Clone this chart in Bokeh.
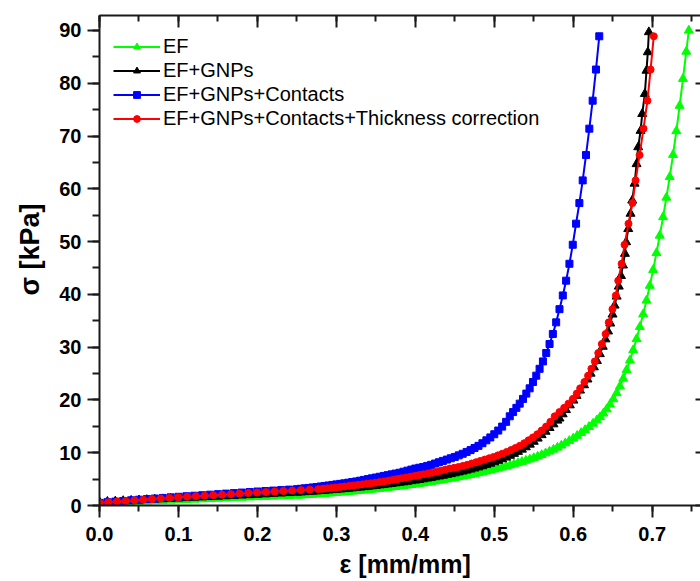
from bokeh.plotting import figure
from bokeh.models import (Range1d, SingleIntervalTicker, LinearAxis, NumeralTickFormatter,
                          Legend, LegendItem, Title)
from bokeh.embed import file_html
from bokeh.resources import INLINE

# ---------------- data ----------------
series_names = ["EF", "EF+GNPs", "EF+GNPs+Contacts", "EF+GNPs+Contacts+Thickness correction"]
series_colors = ["#00ff00", "#000000", "#0000ff", "#ff0000"]

ef_strain = [0.00, 0.01, 0.02, 0.03, 0.04, 0.05, 0.06, 0.07, 0.08, 0.09, 0.10, 0.11, 0.12, 0.13,
             0.14, 0.15, 0.16, 0.17, 0.18, 0.19, 0.20, 0.21, 0.22, 0.23, 0.24, 0.25,
             0.255, 0.26, 0.265, 0.27, 0.275, 0.28, 0.285, 0.29, 0.295, 0.30,
             0.305, 0.31, 0.315, 0.32, 0.325, 0.33, 0.335, 0.34, 0.345, 0.35,
             0.355, 0.36, 0.365, 0.37, 0.375, 0.38, 0.385, 0.39, 0.395, 0.40,
             0.405, 0.41, 0.415, 0.42, 0.425, 0.43, 0.435, 0.44, 0.445, 0.45,
             0.455, 0.46, 0.465, 0.47, 0.475, 0.48, 0.485, 0.49, 0.495, 0.50,
             0.505, 0.51, 0.515, 0.52, 0.525, 0.53, 0.535, 0.54, 0.545, 0.55,
             0.555, 0.56, 0.565, 0.57, 0.575, 0.58, 0.585, 0.59, 0.595, 0.60,
             0.605, 0.61, 0.615, 0.62, 0.625, 0.63,
             0.634, 0.6382, 0.6424, 0.6466, 0.6508, 0.655, 0.6592, 0.6634, 0.6676, 0.6718,
             0.676, 0.6802, 0.6844, 0.6886, 0.6928, 0.697, 0.7012, 0.7054, 0.7096, 0.7138,
             0.718, 0.7222, 0.7264, 0.7306, 0.7348, 0.739, 0.7432, 0.7464]
ef_stress = [0.40, 0.46, 0.52, 0.58, 0.64, 0.70, 0.76, 0.82, 0.88, 0.94, 1.00, 1.06, 1.12, 1.18,
             1.24, 1.30, 1.36, 1.42, 1.48, 1.54, 1.60, 1.65, 1.70, 1.75, 1.81, 1.87,
             1.92, 1.97, 2.02, 2.07, 2.12, 2.17, 2.22, 2.28, 2.34, 2.40,
             2.46, 2.52, 2.59, 2.66, 2.73, 2.80, 2.87, 2.94, 3.02, 3.10,
             3.18, 3.26, 3.35, 3.44, 3.53, 3.62, 3.71, 3.80, 3.90, 4.00,
             4.11, 4.22, 4.34, 4.46, 4.58, 4.70, 4.83, 4.96, 5.10, 5.24,
             5.38, 5.52, 5.67, 5.82, 5.98, 6.14, 6.31, 6.48, 6.66, 6.84,
             7.03, 7.22, 7.42, 7.62, 7.83, 8.05, 8.28, 8.51, 8.74, 9.00,
             9.28, 9.58, 9.90, 10.24, 10.60, 10.98, 11.38, 11.80, 12.25, 12.72,
             13.22, 13.75, 14.31, 14.90, 15.52, 16.17,
             16.75, 17.45, 18.25, 19.15, 20.15, 21.3, 22.6, 24.05, 25.7, 27.5,
             29.45, 31.55, 33.85, 36.25, 38.85, 41.65, 44.65, 47.85, 51.15, 54.65,
             58.35, 62.25, 66.45, 70.95, 75.75, 80.85, 86.0, 90.0]

gnp_strain = [0.00, 0.01, 0.02, 0.03, 0.04, 0.05, 0.06, 0.07, 0.08, 0.09, 0.10, 0.11, 0.12, 0.13,
              0.14, 0.15, 0.16, 0.17, 0.18, 0.19, 0.20, 0.21, 0.22, 0.23, 0.24, 0.25,
              0.255, 0.26, 0.265, 0.27, 0.275, 0.28, 0.285, 0.29, 0.295, 0.30,
              0.305, 0.31, 0.315, 0.32, 0.325, 0.33, 0.335, 0.34, 0.345, 0.35,
              0.355, 0.36, 0.365, 0.37, 0.375, 0.38, 0.385, 0.39, 0.395, 0.40,
              0.405, 0.41, 0.415, 0.42, 0.425, 0.43, 0.435, 0.44, 0.445, 0.45,
              0.455, 0.46, 0.465, 0.47, 0.475, 0.48, 0.485, 0.49, 0.495, 0.50,
              0.505, 0.51, 0.515, 0.52, 0.525, 0.53, 0.535, 0.54, 0.545, 0.55,
              0.555, 0.56, 0.565, 0.57, 0.575, 0.58,
              0.5826, 0.5866, 0.5908, 0.5957, 0.6002, 0.6042, 0.6086, 0.6137, 0.618, 0.622,
              0.6262, 0.630, 0.6337, 0.6374, 0.6408, 0.6441, 0.6469, 0.6498, 0.6524, 0.655,
              0.6577, 0.6605, 0.663, 0.6655, 0.667, 0.6697, 0.6726, 0.6747, 0.6777, 0.6802,
              0.6823, 0.6853, 0.6874, 0.6907, 0.6928, 0.6945, 0.6958]
gnp_stress = [0.65, 0.72, 0.79, 0.86, 0.93, 1.00, 1.07, 1.14, 1.21, 1.28, 1.35, 1.42, 1.49, 1.56,
              1.63, 1.70, 1.77, 1.84, 1.91, 1.98, 2.05, 2.13, 2.21, 2.29, 2.37, 2.45,
              2.50, 2.55, 2.60, 2.65, 2.70, 2.76, 2.82, 2.88, 2.94, 3.00,
              3.06, 3.13, 3.20, 3.27, 3.34, 3.42, 3.50, 3.58, 3.66, 3.75,
              3.84, 3.93, 4.02, 4.12, 4.22, 4.32, 4.42, 4.53, 4.64, 4.75,
              4.87, 4.99, 5.12, 5.25, 5.38, 5.52, 5.66, 5.81, 5.96, 6.12,
              6.29, 6.46, 6.64, 6.83, 7.03, 7.24, 7.46, 7.69, 7.94, 8.20,
              8.48, 8.78, 9.10, 9.44, 9.80, 10.18, 10.60, 11.05, 11.55, 12.10,
              12.70, 13.35, 14.00, 14.70, 15.40, 16.10,
              16.5, 17.3, 18.1, 19.0, 19.9, 20.8, 21.8, 22.8, 23.9, 25.0,
              26.2, 27.4, 28.7, 30.1, 31.5, 33.0, 34.5, 36.2, 37.9, 39.6,
              41.5, 43.5, 45.5, 47.7, 49.9, 52.4, 55.3, 57.8, 61.0, 64.7,
              67.9, 71.0, 74.2, 78.0, 82.4, 85.9, 89.7]

con_strain = [0.00, 0.01, 0.02, 0.03, 0.04, 0.05, 0.06, 0.07, 0.08, 0.09, 0.10, 0.11, 0.12, 0.13,
              0.14, 0.15, 0.16, 0.17, 0.18, 0.19, 0.20, 0.21, 0.22, 0.23, 0.24, 0.25,
              0.255, 0.26, 0.265, 0.27, 0.275, 0.28, 0.285, 0.29, 0.295, 0.30,
              0.305, 0.31, 0.315, 0.32, 0.325, 0.33, 0.335, 0.34, 0.345, 0.35,
              0.355, 0.36, 0.365, 0.37, 0.375, 0.38, 0.385, 0.39, 0.395, 0.40,
              0.405, 0.41, 0.415, 0.42, 0.425, 0.43, 0.435, 0.44, 0.445, 0.45,
              0.455, 0.46, 0.465, 0.47, 0.475, 0.48, 0.485, 0.49, 0.495, 0.50,
              0.505, 0.51, 0.515,
              0.5196, 0.5238, 0.528, 0.5322, 0.5364, 0.5406, 0.5448, 0.549, 0.5532, 0.5574,
              0.5616, 0.5658, 0.57, 0.5742, 0.5784, 0.5826, 0.5868, 0.591, 0.5952, 0.5994,
              0.6036, 0.6078, 0.612, 0.6162, 0.6204, 0.6246, 0.6288, 0.633]
con_stress = [0.50, 0.62, 0.74, 0.86, 0.98, 1.10, 1.21, 1.32, 1.43, 1.54, 1.65, 1.75, 1.85, 1.95,
              2.05, 2.15, 2.25, 2.35, 2.45, 2.55, 2.65, 2.74, 2.83, 2.92, 3.01, 3.10,
              3.17, 3.25, 3.33, 3.42, 3.50, 3.60, 3.70, 3.80, 3.90, 4.00,
              4.10, 4.20, 4.32, 4.44, 4.56, 4.70, 4.85, 5.00, 5.15, 5.30,
              5.45, 5.60, 5.75, 5.90, 6.05, 6.20, 6.40, 6.60, 6.80, 7.00,
              7.15, 7.30, 7.50, 7.70, 7.95, 8.20, 8.45, 8.70, 8.95, 9.20,
              9.50, 9.80, 10.15, 10.50, 10.90, 11.30, 11.80, 12.35, 12.90, 13.50,
              14.20, 14.95, 15.85,
              16.9, 17.7, 18.5, 19.3, 20.2, 21.2, 22.2, 23.4, 24.6, 25.9,
              27.3, 28.9, 30.6, 32.5, 34.7, 37.2, 39.8, 42.6, 45.8, 49.4,
              53.4, 57.3, 61.6, 66.4, 71.4, 76.7, 82.6, 88.9]

thk_strain = [0.0, 0.0111, 0.0222, 0.0333, 0.0444, 0.0555, 0.0665, 0.0776, 0.0887, 0.0998,
              0.1109, 0.122, 0.1331, 0.1442, 0.1553, 0.1664, 0.1774, 0.1885, 0.1996, 0.2107,
              0.2218, 0.2329, 0.244, 0.2551, 0.2662, 0.2773,
              0.2828, 0.2883, 0.2939, 0.2994, 0.305, 0.3105, 0.3161, 0.3216, 0.3272, 0.3327,
              0.3382, 0.3438, 0.3493, 0.3549, 0.3604, 0.366, 0.3715, 0.3771, 0.3826, 0.3882,
              0.3937, 0.3992, 0.4048, 0.4103, 0.4159, 0.4214, 0.427, 0.4325, 0.4381, 0.4436,
              0.4491, 0.4547, 0.4602, 0.4658, 0.4713, 0.4769, 0.4824, 0.488, 0.4935, 0.4991,
              0.5046, 0.5101, 0.5157, 0.5212, 0.5268, 0.5323, 0.5379, 0.5434, 0.549, 0.5545,
              0.56, 0.5656, 0.5711,
              0.5765, 0.5825, 0.5885, 0.594, 0.5995, 0.6045, 0.6088, 0.6142, 0.6188, 0.623,
              0.6274, 0.6317, 0.6362, 0.641, 0.645, 0.6497, 0.654, 0.657, 0.6613, 0.665,
              0.670, 0.675, 0.679, 0.684, 0.689, 0.694, 0.698, 0.702]
thk_stress = [0.50, 0.62, 0.74, 0.86, 0.98, 1.10, 1.21, 1.32, 1.43, 1.54, 1.65, 1.75, 1.85, 1.95,
              2.05, 2.15, 2.25, 2.35, 2.45, 2.55, 2.65, 2.74, 2.83, 2.92, 3.01, 3.10,
              3.17, 3.25, 3.33, 3.42, 3.50, 3.60, 3.70, 3.80, 3.90, 4.00,
              4.10, 4.20, 4.32, 4.44, 4.56, 4.70, 4.85, 5.00, 5.15, 5.30,
              5.45, 5.60, 5.75, 5.90, 6.05, 6.20, 6.40, 6.60, 6.80, 7.00,
              7.15, 7.30, 7.50, 7.70, 7.95, 8.20, 8.45, 8.70, 8.95, 9.20,
              9.50, 9.80, 10.15, 10.50, 10.90, 11.30, 11.80, 12.35, 12.90, 13.50,
              14.20, 14.95, 15.85,
              16.9, 17.7, 18.5, 19.3, 20.2, 21.2, 22.2, 23.4, 24.6, 25.9,
              27.3, 28.9, 30.6, 32.5, 34.7, 37.2, 39.8, 42.6, 45.8, 49.4,
              53.4, 57.3, 61.6, 66.4, 71.4, 76.7, 82.6, 88.9]

x_label = "ε [mm/mm]"
y_label = "σ [kPa]"

# ---------------- figure ----------------
FONT = "Liberation Sans"
AX = "#1a1a1a"

p = figure(width=700, height=581, output_backend="svg", toolbar_location=None,
           x_range=Range1d(0, 0.7612), y_range=Range1d(0, 92.84),
           min_border_left=99, min_border_right=0, min_border_top=15, min_border_bottom=76)
p.grid.visible = False
p.outline_line_color = None
p.background_fill_color = "white"
p.border_fill_color = "white"

xt = SingleIntervalTicker(interval=0.1, num_minor_ticks=2)
yt = SingleIntervalTicker(interval=10, num_minor_ticks=2)


def style(ax, tick_in, tick_out, minor_in, minor_out):
    ax.axis_line_width = 2
    ax.axis_line_color = AX
    ax.major_tick_line_width = 2
    ax.major_tick_line_color = AX
    ax.minor_tick_line_width = 2
    ax.minor_tick_line_color = AX
    ax.major_tick_in = tick_in
    ax.major_tick_out = tick_out
    ax.minor_tick_in = minor_in
    ax.minor_tick_out = minor_out
    ax.major_label_text_font = FONT
    ax.major_label_text_font_style = "bold"
    ax.major_label_text_font_size = "20px"
    ax.major_label_text_color = "black"


xa = p.xaxis[0]
xa.ticker = xt
xa.formatter = NumeralTickFormatter(format="0.0")
style(xa, 0, 12, 0, 6)
xa.major_label_standoff = 9

ya = p.yaxis[0]
ya.ticker = yt
style(ya, 0, 12, 0, 7)
ya.major_label_standoff = 6

top = LinearAxis(ticker=xt)
style(top, 12, 0, 6, 0)
top.major_label_text_font_size = "0px"
top.major_label_text_color = None
top.major_label_standoff = 0
p.add_layout(top, "above")

right = LinearAxis(ticker=yt)
style(right, 5, 0, 0, 0)
right.axis_line_color = None
right.minor_tick_line_color = None
right.major_label_text_font_size = "0px"
right.major_label_text_color = None
right.major_label_standoff = 0
p.add_layout(right, "right")

# axis titles as side-panel titles (offset along the frame edge)
p.add_layout(Title(text=x_label, align="left", offset=240, standoff=8,
                   text_font=FONT, text_font_size="25px", text_font_style="bold",
                   text_color="black"), "below")
p.add_layout(Title(text=y_label, align="left", offset=210, standoff=24,
                   text_font=FONT, text_font_size="27px", text_font_style="bold",
                   text_color="black"), "left")

# ---------------- series ----------------
data = [
    (ef_strain, ef_stress, "triangle", 9),
    (gnp_strain, gnp_stress, "triangle", 9),
    (con_strain, con_stress, "square", 7),
    (thk_strain, thk_stress, "circle", 7),
]
items = []
for (xs, ys, marker, size), name, color in zip(data, series_names, series_colors):
    ln = p.line(xs, ys, line_color=color, line_width=2)
    sc = p.scatter(xs, ys, marker=marker, size=size, fill_color=color, line_color=color)
    items.append(LegendItem(label=name, renderers=[ln, sc]))

legend = Legend(items=items, location=(14, 375), margin=0, padding=0, spacing=0,
                glyph_width=47, glyph_height=17, label_height=24, label_standoff=3,
                label_text_font=FONT, label_text_font_size="20px", label_text_color="black",
                background_fill_alpha=0, border_line_alpha=0)
p.add_layout(legend)

open("out.html", "w").write(file_html(p, INLINE))
